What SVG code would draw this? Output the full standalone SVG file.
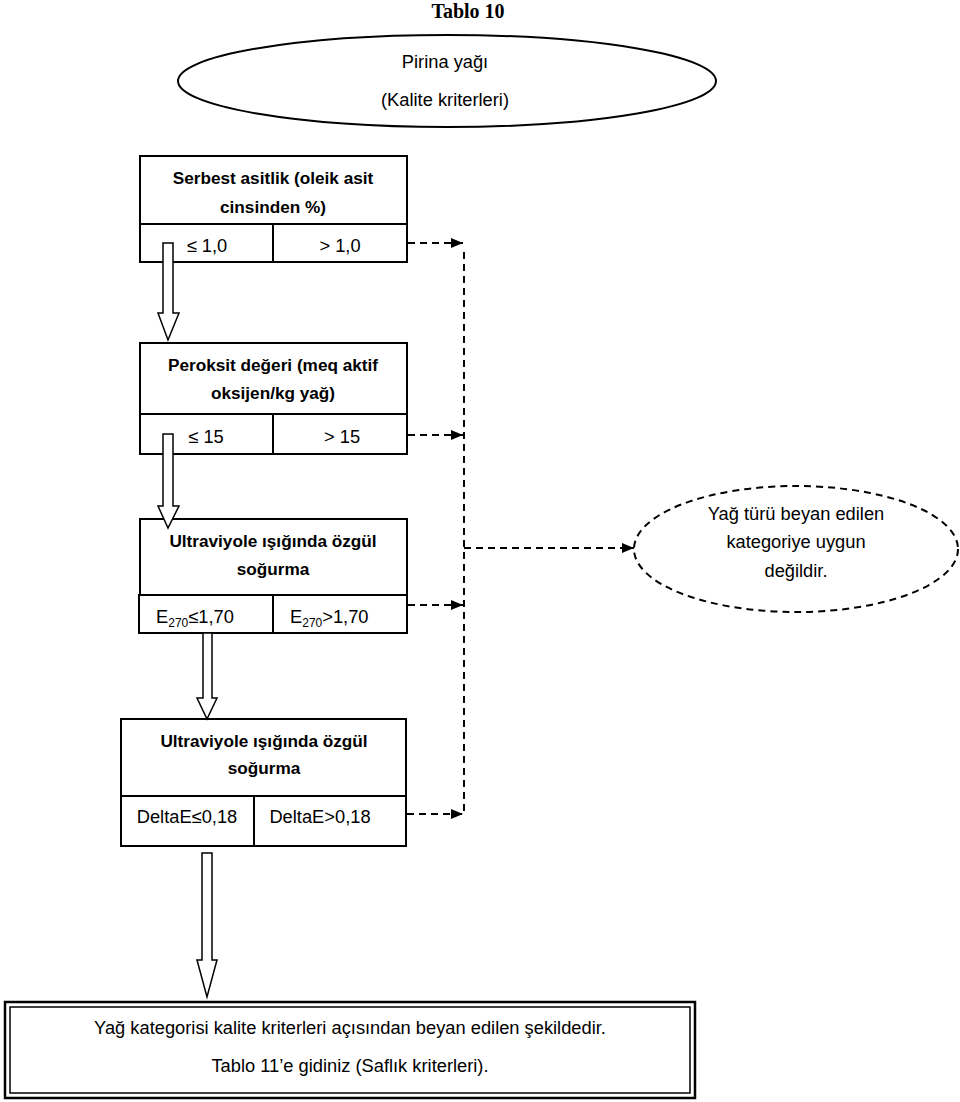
<svg xmlns="http://www.w3.org/2000/svg" width="960" height="1102" viewBox="0 0 960 1102">
<defs>
<style>
.t{font-family:"Liberation Sans",Arial,sans-serif;font-size:18.3px;fill:#000;text-anchor:middle}
.b{font-weight:bold;font-size:17.2px}
.box{fill:#fff;stroke:#000;stroke-width:2}
.blk{fill:#fff;stroke:#000;stroke-width:1.5}
.dash{fill:none;stroke:#000;stroke-width:2;stroke-dasharray:7,5}
</style>
<marker id="ah" viewBox="0 0 12 10" refX="12" refY="5" markerWidth="12" markerHeight="10" markerUnits="userSpaceOnUse" orient="auto">
<path d="M0,0 L12,5 L0,10 Z" fill="#000"/>
</marker>
</defs>
<rect width="960" height="1102" fill="#fff"/>
<text x="468" y="18" style="font-family:'Liberation Serif','Times New Roman',serif;font-weight:bold;font-size:20px;text-anchor:middle">Tablo 10</text>

<g id="start">
<ellipse cx="447" cy="81" rx="269" ry="46" fill="#fff" stroke="#000" stroke-width="2"/>
<text class="t" x="445" y="68">Pirina yağı</text>
<text class="t" x="445" y="106">(Kalite kriterleri)</text>
</g>

<g id="box1">
<rect class="box" x="140" y="156" width="267" height="106"/>
<line x1="140" y1="224" x2="407" y2="224" stroke="#000" stroke-width="2"/>
<line x1="273" y1="224" x2="273" y2="262" stroke="#000" stroke-width="2"/>
<text class="t b" x="273" y="184">Serbest asitlik (oleik asit</text>
<text class="t b" x="273" y="213">cinsinden %)</text>
<text class="t" x="207" y="252">≤ 1,0</text>
<text class="t" x="340" y="252">&gt; 1,0</text>
</g>

<g id="box2">
<rect class="box" x="140" y="343" width="267" height="111"/>
<line x1="140" y1="414" x2="407" y2="414" stroke="#000" stroke-width="2"/>
<line x1="273" y1="414" x2="273" y2="454" stroke="#000" stroke-width="2"/>
<text class="t b" x="273" y="371">Peroksit değeri (meq aktif</text>
<text class="t b" x="273" y="399">oksijen/kg yağ)</text>
<text class="t" x="206" y="443">≤ 15</text>
<text class="t" x="342" y="443">&gt; 15</text>
</g>

<g id="box3">
<rect class="box" x="140" y="519" width="267" height="76"/>
<rect class="box" x="139" y="595" width="268" height="38"/>
<line x1="273" y1="595" x2="273" y2="633" stroke="#000" stroke-width="2"/>
<text class="t b" x="273" y="547">Ultraviyole ışığında özgül</text>
<text class="t b" x="273" y="575">soğurma</text>
<text class="t" x="156" y="623" style="text-anchor:start">E<tspan font-size="12" dy="4">270</tspan><tspan dy="-4">≤1,70</tspan></text>
<text class="t" x="290" y="623" style="text-anchor:start">E<tspan font-size="12" dy="4">270</tspan><tspan dy="-4">&gt;1,70</tspan></text>
</g>

<g id="box4">
<rect class="box" x="121" y="719" width="285" height="127"/>
<line x1="121" y1="796" x2="406" y2="796" stroke="#000" stroke-width="2"/>
<line x1="254" y1="796" x2="254" y2="846" stroke="#000" stroke-width="2"/>
<text class="t b" x="264" y="747">Ultraviyole ışığında özgül</text>
<text class="t b" x="264" y="774">soğurma</text>
<text class="t" x="187" y="823">DeltaE≤0,18</text>
<text class="t" x="320" y="823">DeltaE&gt;0,18</text>
</g>

<g id="reject">
<ellipse cx="796" cy="549" rx="162" ry="63" fill="#fff" class="dash"/>
<text class="t" x="796" y="520">Yağ türü beyan edilen</text>
<text class="t" x="796" y="548">kategoriye uygun</text>
<text class="t" x="796" y="577">değildir.</text>
</g>

<g id="end">
<rect x="5" y="1002" width="690" height="96" fill="#fff" stroke="#000" stroke-width="2.5"/>
<rect x="10" y="1007" width="680" height="86" fill="none" stroke="#000" stroke-width="1.5"/>
<text class="t" x="350" y="1034">Yağ kategorisi kalite kriterleri açısından beyan edilen şekildedir.</text>
<text class="t" x="350" y="1072">Tablo 11’e gidiniz (Saflık kriterleri).</text>
</g>

<g id="connectors">
<polygon class="blk" points="163,243 173,243 173,313 179,313 168,340 158,313 163,313"/>
<polygon class="blk" points="163,434 173,434 173,506 179,506 168,528 158,506 163,506"/>
<polygon class="blk" points="203,633 212,633 212,698 217,698 207,719 197,698 203,698"/>
<polygon class="blk" points="202,853 212,853 212,960 217,960 207,997 197,960 202,960"/>
<line class="dash" x1="464" y1="252" x2="464" y2="814"/>
<line class="dash" x1="408" y1="243" x2="463" y2="243" marker-end="url(#ah)"/>
<line class="dash" x1="408" y1="435" x2="463" y2="435" marker-end="url(#ah)"/>
<line class="dash" x1="408" y1="605" x2="463" y2="605" marker-end="url(#ah)"/>
<line class="dash" x1="407" y1="814" x2="463" y2="814" marker-end="url(#ah)"/>
<line class="dash" x1="464" y1="548" x2="634" y2="548" marker-end="url(#ah)"/>
</g>
</svg>
